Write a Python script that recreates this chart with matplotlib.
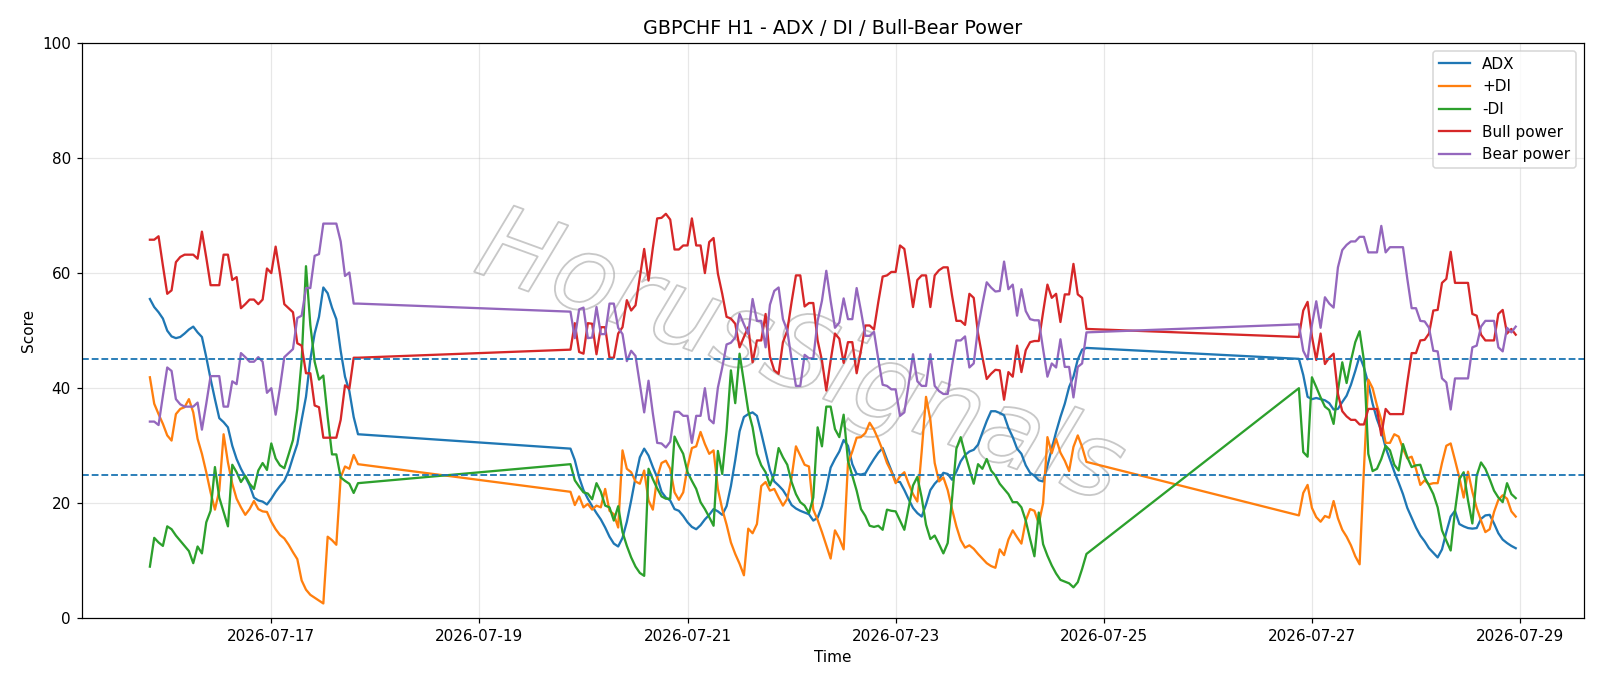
"""
GBPCHF H1 - ADX / DI / Bull-Bear Power, hourly scores with weekend gaps.
"""

import matplotlib
matplotlib.use("Agg")
import matplotlib.pyplot as plt
import matplotlib.dates as mdates
import matplotlib.patheffects as pe
import pandas as pd


### DATA (three trading blocks, one value per hour)
SEG_STARTS = ["2026-07-15 20:00", "2026-07-19 21:00", "2026-07-26 21:00"]

TICK_DAYS = ["2026-07-17", "2026-07-19", "2026-07-21", "2026-07-23",
             "2026-07-25", "2026-07-27", "2026-07-29"]

adx_1 = [55.5, 54.1, 53.2, 52.1, 50.0, 49.0, 48.7, 48.9, 49.5, 50.2,
         50.7, 49.7, 48.9, 45.4, 41.6, 38.1, 34.8, 34.1, 33.2, 30.0,
         27.7, 26.0, 24.6, 23.1, 21.0, 20.5, 20.3, 19.8, 20.8, 22.0,
         23.0, 23.9, 25.6, 28.0, 30.3, 34.5, 38.5, 45.0, 49.5, 52.4,
         57.5, 56.5, 54.0, 52.0, 46.5, 42.0, 39.5, 35.0, 32.0]
adx_2 = [29.5, 27.5, 24.5, 22.3, 20.8, 19.5, 18.3, 17.2, 15.8, 14.2,
         13.0, 12.5, 14.0, 16.8, 20.5, 24.5, 28.0, 29.5, 28.3, 26.3,
         24.5, 22.0, 21.0, 20.5, 19.0, 18.7, 17.8, 16.7, 15.9, 15.5,
         16.2, 17.2, 18.0, 19.0, 18.6, 18.0, 19.5, 23.0, 27.5, 32.5,
         35.0, 35.5, 35.8, 35.2, 32.2, 29.0, 25.8, 23.8, 23.1, 22.3,
         21.1, 19.7, 19.1, 18.7, 18.4, 18.1, 17.0, 17.5, 19.5, 22.5,
         26.2, 27.7, 29.0, 31.0, 30.0, 26.8, 25.1, 25.0, 25.2, 26.5,
         27.7, 28.8, 29.6, 27.6, 25.7, 23.8, 23.7, 22.3, 20.7, 19.2,
         18.3, 17.7, 19.8, 22.3, 23.4, 24.2, 25.3, 25.1, 24.1, 25.5,
         27.3, 28.4, 29.0, 29.3, 30.2, 32.3, 34.3, 36.0, 36.0, 35.7,
         35.3, 33.1, 31.5, 29.5, 28.6, 26.6, 25.3, 24.8, 24.0, 23.8,
         26.5, 29.5, 32.4, 35.0, 37.3, 40.2, 42.0, 45.0, 46.7, 47.0]
adx_3 = [45.1, 42.3, 38.5, 38.1, 38.3, 38.1, 37.9, 37.4, 36.3, 36.4,
         37.6, 38.7, 40.6, 43.0, 45.6, 43.6, 40.8, 37.3, 34.6, 32.6,
         29.7, 27.6, 25.5, 23.6, 21.6, 19.2, 17.5, 15.8, 14.4, 13.4,
         12.2, 11.4, 10.6, 12.0, 15.0, 17.7, 18.7, 16.4, 16.0, 15.7,
         15.6, 15.7, 17.3, 17.9, 18.0, 16.5, 14.8, 13.7, 13.1, 12.6,
         12.2]

plus_di_1 = [41.9, 37.3, 35.5, 33.8, 31.8, 30.9, 35.5, 36.4, 36.7, 38.1,
             35.8, 31.2, 28.6, 25.4, 21.9, 18.9, 22.2, 32.0, 27.1, 23.4,
             20.8, 19.3, 18.0, 19.0, 20.4, 19.0, 18.6, 18.5, 16.8, 15.5,
             14.5, 13.9, 12.8, 11.5, 10.3, 6.6, 5.0, 4.1, 3.6, 3.1,
             2.6, 14.2, 13.6, 12.8, 24.5, 26.4, 26.0, 28.4, 26.8]
plus_di_2 = [22.0, 19.7, 21.2, 19.3, 19.9, 18.9, 19.6, 19.3, 22.5, 18.7,
             18.1, 15.8, 29.2, 26.0, 25.4, 23.8, 23.4, 25.7, 20.5, 18.9,
             24.5, 27.0, 27.4, 26.0, 21.9, 20.6, 21.9, 26.3, 29.6, 29.9,
             32.4, 30.3, 28.6, 29.2, 22.5, 19.0, 16.3, 13.2, 11.2, 9.5,
             7.5, 15.6, 14.8, 16.4, 23.0, 23.7, 22.2, 22.5, 21.0, 19.6,
             20.8, 24.5, 29.9, 28.3, 26.7, 26.4, 18.9, 17.1, 15.0, 12.7,
             10.4, 15.3, 13.9, 12.0, 27.0, 29.0, 31.4, 31.5, 32.2, 34.0,
             32.8, 31.1, 29.2, 27.0, 25.5, 23.5, 24.7, 25.4, 23.4, 21.6,
             20.3, 29.0, 38.5, 34.5, 27.0, 23.8, 24.5, 22.3, 19.0, 16.0,
             13.6, 12.3, 12.7, 12.1, 11.2, 10.4, 9.6, 9.1, 8.8, 12.0,
             11.0, 13.7, 15.3, 14.1, 13.0, 17.0, 19.0, 18.7, 16.5, 20.0,
             31.5, 28.7, 31.2, 28.8, 27.4, 25.6, 29.8, 31.8, 29.8, 27.2]
plus_di_3 = [17.9, 21.8, 23.2, 19.2, 17.6, 16.8, 17.8, 17.5, 20.4, 17.4,
             15.4, 14.2, 12.7, 10.8, 9.4, 26.0, 41.5, 40.0, 37.0, 34.5,
             30.5, 30.5, 32.0, 31.6, 29.5, 27.8, 28.1, 26.0, 23.2, 24.0,
             23.3, 23.5, 23.5, 27.0, 30.0, 30.4, 27.5, 24.5, 21.0, 25.5,
             22.0, 19.2, 17.0, 15.0, 15.5, 18.5, 20.6, 21.4, 20.8, 18.6,
             17.7]

minus_di_1 = [9.0, 14.0, 13.2, 12.6, 16.0, 15.5, 14.4, 13.5, 12.6, 11.7,
              9.6, 12.5, 11.3, 16.7, 18.7, 26.3, 21.0, 18.5, 16.0, 26.7,
              25.4, 23.7, 24.8, 23.4, 22.5, 25.7, 27.0, 25.8, 30.4, 27.8,
              26.6, 26.1, 28.5, 31.0, 36.4, 44.8, 61.2, 51.0, 44.6, 41.5,
              42.2, 35.0, 28.5, 28.5, 24.5, 23.9, 23.4, 21.8, 23.5]
minus_di_2 = [26.8, 24.0, 22.9, 21.9, 21.7, 20.7, 23.5, 22.0, 19.6, 19.3,
              17.0, 19.5, 15.0, 12.6, 10.6, 9.0, 7.9, 7.4, 26.0, 24.2,
              22.6, 21.2, 20.8, 20.8, 31.6, 30.0, 28.6, 25.4, 23.9, 22.5,
              20.2, 19.0, 17.6, 16.1, 29.1, 25.1, 32.6, 43.1, 37.4, 46.0,
              41.0, 36.1, 33.2, 28.6, 26.6, 25.4, 23.1, 25.1, 29.6, 28.0,
              26.7, 23.7, 21.6, 20.2, 19.6, 18.3, 21.0, 33.2, 29.9, 36.8,
              36.8, 32.9, 31.5, 35.4, 27.4, 24.8, 22.2, 19.0, 17.8, 16.1,
              15.9, 16.1, 15.4, 18.9, 18.7, 18.6, 17.0, 15.4, 19.3, 23.1,
              24.6, 21.0, 16.3, 13.8, 14.4, 12.9, 11.3, 13.1, 20.8, 29.5,
              31.5, 28.6, 26.0, 23.4, 26.8, 26.0, 27.7, 25.7, 24.8, 23.4,
              22.5, 21.6, 20.2, 20.2, 19.3, 17.0, 13.8, 10.8, 18.4, 12.9,
              10.9, 9.2, 7.8, 6.7, 6.4, 6.1, 5.4, 6.3, 8.6, 11.2]
minus_di_3 = [40.0, 28.9, 28.1, 41.9, 40.2, 38.4, 36.8, 36.2, 33.8, 39.6,
              44.5, 40.9, 44.8, 48.0, 49.9, 44.8, 28.6, 25.6, 26.0, 27.7,
              30.0, 29.2, 26.7, 25.7, 30.3, 28.0, 26.3, 26.6, 26.7, 24.5,
              23.1, 21.6, 19.3, 15.3, 13.5, 11.8, 18.7, 24.2, 25.4, 20.5,
              16.5, 24.8, 27.1, 26.0, 24.2, 22.2, 21.0, 20.2, 23.5, 21.6,
              20.9]

bull_1 = [65.8, 65.8, 66.4, 61.3, 56.4, 57.0, 61.9, 62.8, 63.2, 63.2,
          63.2, 62.5, 67.2, 62.7, 57.9, 57.9, 57.9, 63.2, 63.2, 58.8,
          59.3, 53.9, 54.6, 55.4, 55.4, 54.6, 55.4, 60.8, 60.0, 64.6,
          59.9, 54.6, 53.9, 53.2, 47.8, 47.4, 42.6, 42.6, 37.0, 36.7,
          31.4, 31.4, 31.4, 31.4, 34.5, 40.5, 39.9, 45.3, 45.3]
bull_2 = [46.7, 51.3, 46.3, 46.0, 51.3, 51.2, 45.9, 50.6, 50.6, 45.3,
          45.3, 49.5, 50.6, 55.3, 53.5, 54.4, 59.3, 64.2, 58.7, 64.4,
          69.5, 69.6, 70.3, 69.3, 64.1, 64.1, 64.8, 64.8, 69.5, 64.8,
          64.8, 60.0, 65.4, 66.1, 59.9, 56.4, 52.4, 52.1, 51.2, 47.1,
          48.9, 50.6, 44.5, 48.3, 48.3, 52.9, 45.5, 43.1, 42.5, 48.0,
          50.0, 55.0, 59.6, 59.6, 54.2, 54.8, 54.8, 48.3, 44.8, 39.6,
          44.8, 49.5, 48.6, 44.4, 48.0, 48.0, 42.6, 46.6, 50.9, 50.9,
          50.2, 55.0, 59.4, 59.6, 60.2, 60.2, 64.8, 64.2, 59.3, 54.1,
          58.8, 59.6, 59.6, 54.1, 59.6, 60.5, 61.0, 61.0, 56.1, 51.7,
          51.7, 51.0, 56.4, 55.7, 49.5, 45.4, 41.6, 42.5, 43.2, 43.1,
          38.0, 42.8, 42.0, 47.4, 42.8, 46.6, 48.0, 48.2, 48.2, 53.2,
          58.0, 55.7, 56.4, 51.5, 56.3, 56.3, 61.6, 56.3, 55.7, 50.3]
bull_3 = [48.9, 53.5, 55.0, 49.0, 44.9, 49.5, 44.2, 45.3, 46.0, 39.0,
          36.0, 35.1, 34.5, 34.5, 33.7, 33.7, 36.4, 36.4, 36.4, 31.8,
          36.4, 35.5, 35.5, 35.5, 35.5, 41.0, 46.1, 46.1, 48.3, 48.4,
          49.5, 53.5, 53.6, 58.3, 59.0, 63.7, 58.3, 58.3, 58.3, 58.3,
          52.9, 52.6, 49.3, 48.3, 48.3, 48.3, 52.9, 53.6, 49.5, 50.3,
          49.3]

bear_1 = [34.2, 34.2, 33.6, 38.7, 43.6, 43.0, 38.1, 37.2, 36.8, 36.8,
          36.8, 37.5, 32.8, 37.3, 42.1, 42.1, 42.1, 36.8, 36.8, 41.2,
          40.7, 46.1, 45.4, 44.6, 44.6, 45.4, 44.6, 39.2, 40.0, 35.4,
          40.1, 45.4, 46.1, 46.8, 52.2, 52.6, 57.4, 57.4, 63.0, 63.3,
          68.6, 68.6, 68.6, 68.6, 65.5, 59.5, 60.1, 54.7, 54.7]
bear_2 = [53.3, 48.7, 53.7, 54.0, 48.7, 48.8, 54.1, 49.4, 49.4, 54.7,
          54.7, 50.5, 49.4, 44.7, 46.5, 45.6, 40.7, 35.8, 41.3, 35.6,
          30.5, 30.4, 29.7, 30.7, 35.9, 35.9, 35.2, 35.2, 30.5, 35.2,
          35.2, 40.0, 34.6, 33.9, 40.1, 43.6, 47.6, 47.9, 48.8, 52.9,
          51.1, 49.4, 55.5, 51.7, 51.7, 47.1, 54.5, 56.9, 57.5, 52.0,
          50.0, 45.0, 40.4, 40.4, 45.8, 45.2, 45.2, 51.7, 55.2, 60.4,
          55.2, 50.5, 51.4, 55.6, 52.0, 52.0, 57.4, 53.4, 49.1, 49.1,
          49.8, 45.0, 40.6, 40.4, 39.8, 39.8, 35.2, 35.8, 40.7, 45.9,
          41.2, 40.4, 40.4, 45.9, 40.4, 39.5, 39.0, 39.0, 43.9, 48.3,
          48.3, 49.0, 43.6, 44.3, 50.5, 54.6, 58.4, 57.5, 56.8, 56.9,
          62.0, 57.2, 58.0, 52.6, 57.2, 53.4, 52.0, 51.8, 51.8, 46.8,
          42.0, 44.3, 43.6, 48.5, 43.7, 43.7, 38.4, 43.7, 44.3, 49.7]
bear_3 = [51.1, 46.5, 45.0, 51.0, 55.1, 50.5, 55.8, 54.7, 54.0, 61.0,
          64.0, 64.9, 65.5, 65.5, 66.3, 66.3, 63.6, 63.6, 63.6, 68.2,
          63.6, 64.5, 64.5, 64.5, 64.5, 59.0, 53.9, 53.9, 51.7, 51.6,
          50.5, 46.5, 46.4, 41.7, 41.0, 36.3, 41.7, 41.7, 41.7, 41.7,
          47.1, 47.4, 50.7, 51.7, 51.7, 51.7, 47.1, 46.4, 50.5, 49.7,
          50.7]

LEVELS = [45, 25]


### Traitement
segs = [(adx_1, plus_di_1, minus_di_1, bull_1, bear_1),
        (adx_2, plus_di_2, minus_di_2, bull_2, bear_2),
        (adx_3, plus_di_3, minus_di_3, bull_3, bear_3)]

frames = []
for start, (a, p, m, bu, be) in zip(SEG_STARTS, segs):
    idx = pd.date_range(start, periods=len(a), freq="h")
    frames.append(pd.DataFrame({"ADX": a, "+DI": p, "-DI": m,
                                "Bull power": bu, "Bear power": be}, index=idx))
df = pd.concat(frames)


### Affichage
DPI = 110
fig = plt.figure(figsize=(1600 / DPI, 686 / DPI), dpi=DPI)
ax = fig.add_axes([0.051, 0.0985, 0.939, 0.839])

for col in df.columns:
    ax.plot(df.index, df[col], label=col, linewidth=1.5)

for lv in LEVELS:
    ax.axhline(lv, color="C0", linestyle="--", linewidth=1.2)

ax.text(0.478, 0.45, "HorusSignals", transform=ax.transAxes,
        fontsize=68, style="italic", fontweight="light", rotation=-20,
        ha="center", va="center", color=(1, 1, 1, 0), zorder=1,
        path_effects=[pe.withStroke(linewidth=1.2, foreground="#c8c8c8")])

ax.set_ylim(0, 100)
ax.set_xticks(pd.to_datetime(TICK_DAYS))
ax.xaxis.set_major_formatter(mdates.DateFormatter("%Y-%m-%d"))
ax.grid(True, alpha=0.3)
ax.set_title("GBPCHF H1 - ADX / DI / Bull-Bear Power", fontsize=12.5)
ax.set_xlabel("Time")
ax.set_ylabel("Score")
ax.legend(loc="upper right")

fig.savefig("out.png", dpi=DPI)
